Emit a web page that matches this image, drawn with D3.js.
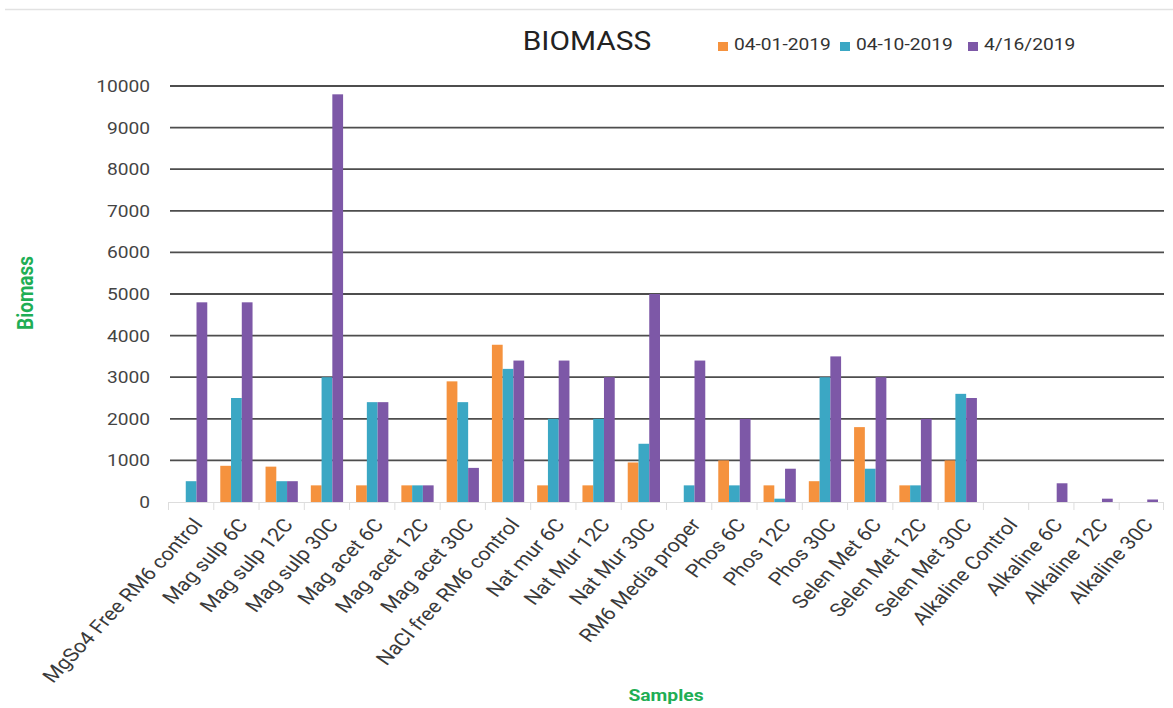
<!DOCTYPE html>
<html>
<head>
<meta charset="utf-8">
<script src="https://cdn.jsdelivr.net/npm/d3@7"></script>
<style>
  body { margin: 0; background: #fff; font-family: Roboto, "Noto Sans", sans-serif; }
  #chart { width: 1173px; height: 708px; }
</style>
</head>
<body>
<div id="chart"></div>
<script>
const samples = ["MgSo4 Free RM6 control", "Mag sulp 6C", "Mag sulp 12C", "Mag sulp 30C",
  "Mag acet 6C", "Mag acet 12C", "Mag acet 30C", "NaCl free RM6 control", "Nat mur 6C",
  "Nat Mur 12C", "Nat Mur 30C", "RM6 Media proper", "Phos 6C", "Phos 12C", "Phos 30C",
  "Selen Met 6C", "Selen Met 12C", "Selen Met 30C", "Alkaline Control", "Alkaline 6C",
  "Alkaline 12C", "Alkaline 30C"];
const seriesNames = ["04-01-2019", "04-10-2019", "4/16/2019"];
const apr01 = [0, 870, 850, 400, 400, 400, 2900, 3780, 400, 400, 950, 0, 1000, 400, 500, 1800, 400, 1000, 0, 0, 0, 0];
const apr10 = [500, 2500, 500, 3000, 2400, 400, 2400, 3200, 2000, 2000, 1400, 400, 400, 80, 3000, 800, 400, 2600, 0, 0, 0, 0];
const apr16 = [4800, 4800, 500, 9800, 2400, 400, 820, 3400, 3400, 3000, 5000, 3400, 2000, 800, 3500, 3000, 2000, 2500, 0, 450, 80, 60];
const yTicks = [0, 1000, 2000, 3000, 4000, 5000, 6000, 7000, 8000, 9000, 10000];
const colors = ["#f5923e", "#3ba7c4", "#7d58a7"];

const W = 1173, H = 708;
const plotLeft = 168, plotRight = 1164, plotTop = 86, plotBottom = 502;
// the picture looks a little wider than tall, text is stretched the same way
const sx = 1.17;

const svg = d3.select("#chart").append("svg").attr("width", W).attr("height", H);

// thin top border
svg.append("line").attr("x1", 5).attr("x2", W).attr("y1", 9.5).attr("y2", 9.5)
  .attr("stroke", "#e2e2e2").attr("stroke-width", 1.5);

const x0 = d3.scaleBand().domain(samples).range([plotLeft, plotRight]);
const x1 = d3.scaleBand().domain(seriesNames).range([7, x0.bandwidth() - 6]);
const y = d3.scaleLinear().domain([0, 10000]).range([plotBottom, plotTop]);

// gridlines
svg.append("g").selectAll("line").data(yTicks.filter(d => d > 0)).join("line")
  .attr("x1", plotLeft + 2).attr("x2", plotRight)
  .attr("y1", d => y(d)).attr("y2", d => y(d))
  .attr("stroke", "#4d4d4d").attr("stroke-width", 1.8);

// y tick labels
svg.append("g").selectAll("text").data(yTicks).join("text")
  .attr("transform", d => `translate(150,${y(d)}) scale(${sx},1)`)
  .attr("dy", "0.36em")
  .attr("text-anchor", "end").attr("fill", "#444").attr("font-size", 16.4)
  .text(d => d);

// bars
const values = [apr01, apr10, apr16];
const rows = samples.map((s, i) => ({ s, v: seriesNames.map((n, k) => ({ n, k, val: values[k][i] })) }));
svg.append("g").selectAll("g").data(rows).join("g")
  .attr("transform", d => `translate(${x0(d.s)},0)`)
  .selectAll("rect").data(d => d.v).join("rect")
  .attr("x", d => x1(d.n)).attr("width", x1.bandwidth())
  .attr("y", d => y(d.val)).attr("height", d => plotBottom - y(d.val))
  .attr("fill", d => colors[d.k]);

// x axis baseline and ticks
const xAxis = svg.append("g");
xAxis.append("line").attr("x1", plotLeft).attr("x2", plotRight).attr("y1", plotBottom + 0.5).attr("y2", plotBottom + 0.5)
  .attr("stroke", "#ddd");
xAxis.selectAll("line.tick").data(samples.concat(["end"])).join("line").attr("class", "tick")
  .attr("x1", (d, i) => i < samples.length ? x0(d) + 0.5 : plotRight - 0.5)
  .attr("x2", (d, i) => i < samples.length ? x0(d) + 0.5 : plotRight - 0.5)
  .attr("y1", plotBottom).attr("y2", plotBottom + 8).attr("stroke", "#ddd");
xAxis.selectAll("text").data(samples).join("text")
  .attr("transform", d => `translate(${x0(d) + x0.bandwidth() / 2 + 13},${plotBottom + 23}) scale(${sx},1) rotate(-51)`)
  .attr("text-anchor", "end")
  .attr("fill", "#3a3a3a").attr("font-size", 18.6)
  .text(d => d);

// title
svg.append("text").attr("transform", `translate(587,50) scale(${sx},1)`).attr("text-anchor", "middle")
  .attr("font-size", 25.5).attr("fill", "#222").text("BIOMASS");

// legend
const legendX = [718, 840, 968];
const lg = svg.append("g").selectAll("g").data(seriesNames).join("g")
  .attr("transform", (d, i) => `translate(${legendX[i]},50)`);
lg.append("rect").attr("x", 0).attr("y", -8).attr("width", 10).attr("height", 9)
  .attr("fill", (d, i) => colors[i]);
lg.append("text").attr("transform", `translate(16,0) scale(${sx},1)`)
  .attr("font-size", 16.4).attr("fill", "#333").text(d => d);

// axis titles
svg.append("text").attr("transform", `translate(33,293) scale(${sx},1) rotate(-90)`)
  .attr("text-anchor", "middle").attr("font-size", 19).attr("font-weight", "bold")
  .attr("fill", "#1fae55").text("Biomass");
svg.append("text").attr("transform", `translate(666,701) scale(${sx},1)`).attr("text-anchor", "middle")
  .attr("font-size", 16.5).attr("font-weight", "bold").attr("fill", "#1fae55").text("Samples");
</script>
</body>
</html>
